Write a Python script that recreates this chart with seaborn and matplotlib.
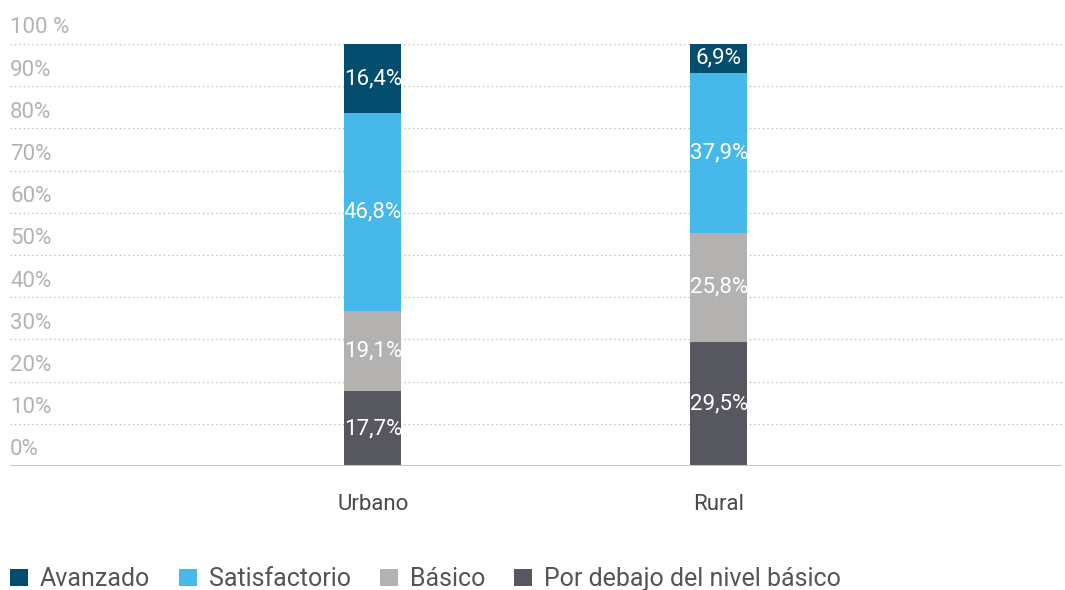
import matplotlib
matplotlib.use("Agg")
import matplotlib.pyplot as plt
import matplotlib.transforms as mtransforms
from matplotlib.patches import Patch
import numpy as np
import pandas as pd
import seaborn as sns

# Datos
zonas = ["Urbano", "Rural"]
niveles = ["Avanzado", "Satisfactorio", "Básico", "Por debajo del nivel básico"]
por_debajo = [17.7, 29.5]
basico = [19.1, 25.8]
satisfactorio = [46.8, 37.9]
avanzado = [16.4, 6.9]
colores = ["#034d6e", "#46b9ea", "#b3b2b0", "#57575f"]
ticks_y = [0, 10, 20, 30, 40, 50, 60, 70, 80, 90, 100]
ticks_txt = ["0%", "10%", "20%", "30%", "40%", "50%", "60%", "70%", "80%", "90%", "100 %"]

sns.set_style("white")
plt.rcParams["font.family"] = ["Roboto", "DejaVu Sans"]

capas = [por_debajo, basico, satisfactorio, avanzado]  # de abajo hacia arriba
colores_capas = [colores[3], colores[2], colores[1], colores[0]]
acumulado = np.cumsum(np.array(capas), axis=0)

fig = plt.figure(figsize=(10.65, 5.90), dpi=100)
ax = fig.add_axes([0.0094, 0.2102, 0.9876, 0.7152])

# dibujar de arriba hacia abajo para que las capas se superpongan bien
for i in range(len(capas) - 1, -1, -1):
    df = pd.DataFrame({"zona": zonas, "valor": acumulado[i]})
    sns.barplot(data=df, x="zona", y="valor", color=colores_capas[i],
                width=0.165, saturation=1, ax=ax, linewidth=0)

# etiquetas dentro de las barras
for i, capa in enumerate(capas):
    for j, v in enumerate(capa):
        base = acumulado[i][j] - v
        ax.text(j, base + v / 2, f"{v:.1f}%".replace(".", ","), ha="center",
                va="center", color="white", fontsize=16)

ax.set_xlim(-1.049, 1.991)
ax.set_ylim(0, 100)

# cuadrícula punteada
for t in ticks_y[1:]:
    ax.axhline(t, color="#b5b5b5", linestyle=(0, (1, 2.5)), linewidth=0.9, zorder=0)
ax.axhline(0, color="#c8c8c8", linewidth=2.2, zorder=3)

trans = mtransforms.blended_transform_factory(ax.transAxes, ax.transData)
for t, txt in zip(ticks_y, ticks_txt):
    ax.text(0.0, t + 3.8, txt, transform=trans, ha="left", va="center",
            color="#b3b3b3", fontsize=16, clip_on=False)

ax.set_yticks([])
ax.set_xticks([0, 1])
ax.set_xticklabels(zonas, fontsize=16, color="#4a4a4a")
ax.tick_params(axis="x", length=0, pad=20)
ax.set_xlabel("")
ax.set_ylabel("")
for s in ax.spines.values():
    s.set_visible(False)

handles = [Patch(facecolor=c, edgecolor="none") for c in colores]
fig.legend(handles, niveles, loc="lower left", bbox_to_anchor=(0.0094, -0.002),
           ncol=4, frameon=False, fontsize=18, handlelength=0.72, handleheight=0.72,
           handletextpad=0.48, columnspacing=1.15, borderpad=0, borderaxespad=0,
           labelcolor="#555555")

fig.savefig("out.png", dpi=100)
